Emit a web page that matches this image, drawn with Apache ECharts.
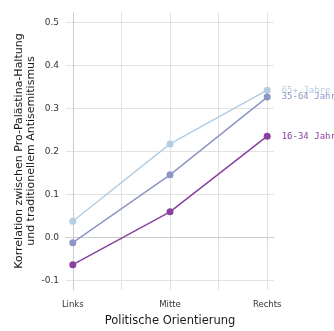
<!DOCTYPE html>
<html><head><meta charset="utf-8">
<script src="https://cdn.jsdelivr.net/npm/echarts@6/dist/echarts.min.js"></script>
<style>html,body{margin:0;padding:0;background:#fff}#c{width:334px;height:331px}</style>
</head><body><div id="c"></div>
<script>
const categories = ['Links', 'Mitte', 'Rechts'];
const groups = ['65+ Jahre', '35-64 Jahre', '16-34 Jahre'];
const values65 = [0.038, 0.218, 0.343];
const values35 = [-0.012, 0.146, 0.327];
const values16 = [-0.063, 0.060, 0.236];
const yTicks = [-0.1, 0, 0.1, 0.2, 0.3, 0.4, 0.5];
const colors = ['#b3cde3', '#8c96c6', '#88419d'];
const allValues = [values65, values35, values16];

const chart = echarts.init(document.getElementById('c'), null, {renderer: 'canvas'});
const font = 'DejaVu Sans';
const series = groups.map((g, i) => ({
  name: g,
  type: 'line',
  data: allValues[i].map((v, j) => [j, v]),
  symbol: 'circle',
  symbolSize: 7,
  lineStyle: {color: colors[i], width: 1.5},
  itemStyle: {color: colors[i]},
  label: {
    show: true,
    formatter: p => p.dataIndex === 2 ? g : '',
    position: 'right',
    distance: 11,
    color: colors[i],
    fontFamily: 'DejaVu Sans Mono',
    fontSize: 9
  },
  labelLayout: {hideOverlap: false},
  emphasis: {disabled: true},
  z: 3 + i
}));

chart.setOption({
  animation: false,
  grid: {left: 66, right: 60, top: 12, bottom: 41, containLabel: false, outerBoundsMode: 'none'},
  xAxis: {
    type: 'value', min: -0.07, max: 2.07,
    name: 'Politische Orientierung', nameLocation: 'middle', nameGap: 25, nameMoveOverlap: false,
    nameTextStyle: {fontFamily: font, fontSize: 11.5, color: '#1a1a1a'},
    axisLine: {show: true, lineStyle: {color: '#cccccc', width: 1}},
    axisTick: {show: true, customValues: [0, 0.5, 1, 1.5, 2], length: 3, lineStyle: {color: '#cccccc'}},
    axisLabel: {customValues: [0, 1, 2], formatter: v => categories[Math.round(v)], fontFamily: font, fontSize: 8.5, color: '#333', margin: 10},
    splitLine: {show: true, lineStyle: {color: '#e2e2e2', width: 1}}
  },
  yAxis: {
    type: 'value', min: -0.122, max: 0.525,
    name: 'Korrelation zwischen Pro-Palästina-Haltung\nund traditionellem Antisemitismus',
    nameLocation: 'middle', nameGap: 29, nameMoveOverlap: false,
    nameTextStyle: {fontFamily: font, fontSize: 11, color: '#1a1a1a', lineHeight: 12},
    axisLine: {show: true, lineStyle: {color: '#cccccc', width: 1}},
    axisTick: {show: false, customValues: yTicks},
    axisLabel: {customValues: yTicks, formatter: v => v.toFixed(1), fontFamily: font, fontSize: 9, color: '#333', margin: 7},
    splitLine: {show: true, lineStyle: {color: '#e2e2e2', width: 1}}
  },
  series: series
});
</script></body></html>
